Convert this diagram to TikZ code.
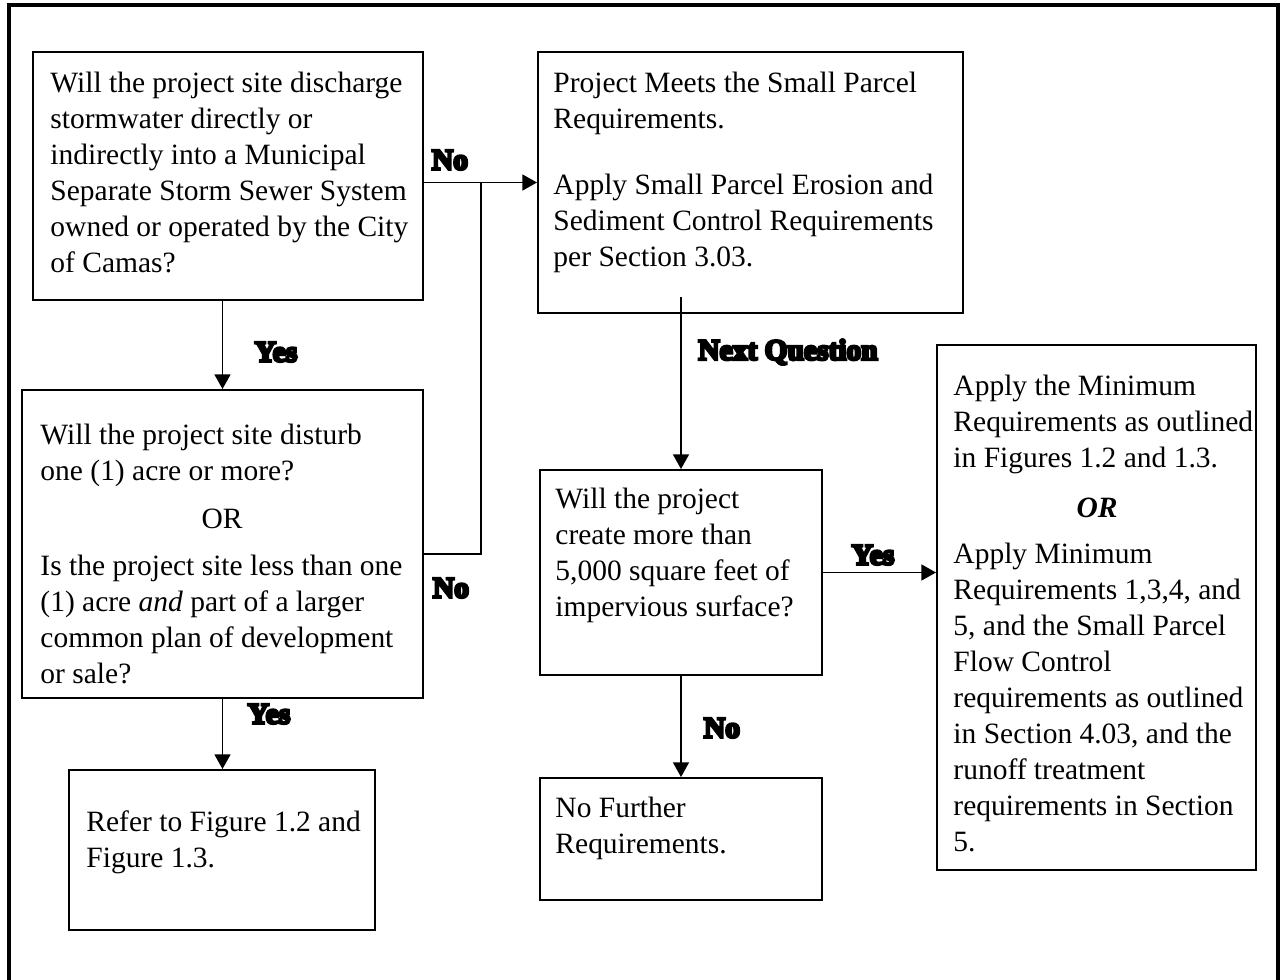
\documentclass[tikz,border=0pt]{standalone}
\usepackage{fontspec}
\setmainfont{Liberation Serif}
\newfontfamily\fatfont[BoldFont={Liberation Serif Bold},BoldFeatures={FakeBold=9}]{Liberation Serif}
\usetikzlibrary{arrows.meta,fit,calc}
\begin{document}
\begin{tikzpicture}[x=0.407pt,y=-0.407pt,
  box/.style={draw,line width=0.8pt,inner sep=0pt},
  txt/.style={inner sep=0pt,anchor=north west,align=left,font=\fontsize{12}{14.65}\selectfont},
  ortxt/.style={inner sep=0pt,font=\fontsize{12}{14.65}\selectfont},
  lab/.style={inner sep=0pt,font=\fatfont\bfseries\fontsize{12}{14}\selectfont},
  arr/.style={line width=0.8pt,-{Triangle[length=6pt,width=6.5pt]}},
  ln/.style={line width=0.8pt}]
\useasboundingbox (0,0) rectangle (1281,980);
% outer frame
\draw[line width=1.35pt] (9,985) -- (9,5) -- (1278,5) -- (1278,985);
% boxes
\node[box,fit={(33,52) (423,300)}] (A) {};
\node[box,fit={(22,390) (423,698)}] (B) {};
\node[box,fit={(69,770) (375,930)}] (C) {};
\node[box,fit={(538,52) (963,313)}] (D) {};
\node[box,fit={(540,470) (822,675)}] (E) {};
\node[box,fit={(540,778) (822,900)}] (G) {};
\node[box,fit={(937,345) (1256,870)}] (F) {};
% texts
\node[txt] (At) at (50,67) {\strut Will the project site discharge\\stormwater directly or\\indirectly into a Municipal\\Separate Storm Sewer System\\owned or operated by the City\\of Camas?};
\node[txt] (Bt1) at (40,419) {\strut Will the project site disturb\\one (1) acre or more?};
\node[ortxt] (Bor) at (222,519) {OR};
\node[txt] (Bt2) at (40,550) {\strut Is the project site less than one\\(1) acre \textit{and} part of a larger\\common plan of development\\or sale?};
\node[txt] (Ct) at (86,806) {\strut Refer to Figure 1.2 and\\Figure 1.3.};
\node[txt] (Dt) at (553,67) {\strut Project Meets the Small Parcel\\Requirements.\\[12pt]Apply Small Parcel Erosion and\\Sediment Control Requirements\\per Section 3.03.};
\node[txt] (Et) at (555,483) {\strut Will the project\\create more than\\5,000 square feet of\\impervious surface?};
\node[txt] (Gt) at (555,792) {\strut No Further\\Requirements.};
\node[txt] (Ft1) at (953,370) {\strut Apply the Minimum\\Requirements as outlined\\in Figures 1.2 and 1.3.};
\node[ortxt] (For) at (1097,508) {\textbf{\textit{OR}}};
\node[txt] (Ft2) at (953,538) {\strut Apply Minimum\\Requirements 1,3,4, and\\5, and the Small Parcel\\Flow Control\\requirements as outlined\\in Section 4.03, and the\\runoff treatment\\requirements in Section\\5.};
% connectors
\draw[arr] (A.south -| B.north) -- (B.north);
\draw[arr] (A.east |- D.west) -- (D.west);
\coordinate (bj) at (423,554);
\coordinate (tj) at (481,183);
\draw[ln] (bj) -| (tj);
\draw[arr] (B.south) -- (B.south |- C.north);
\draw[arr] ($(D.south -| E.north)+(0,-17)$) -- (E.north);
\draw[arr] (E.east) -- (E.east -| F.west);
\draw[arr] (E.south) -- (G.north);
% labels
\node[lab] (l1) at (450,160) {No};
\node[lab] (l2) at (276,352) {Yes};
\node[lab] (l3) at (451,588) {No};
\node[lab] (l4) at (269,714) {Yes};
\node[lab] (l5) at (788,352) {Next Question};
\node[lab] (l6) at (873,555) {Yes};
\node[lab] (l7) at (722,728) {No};
\end{tikzpicture}
\end{document}
